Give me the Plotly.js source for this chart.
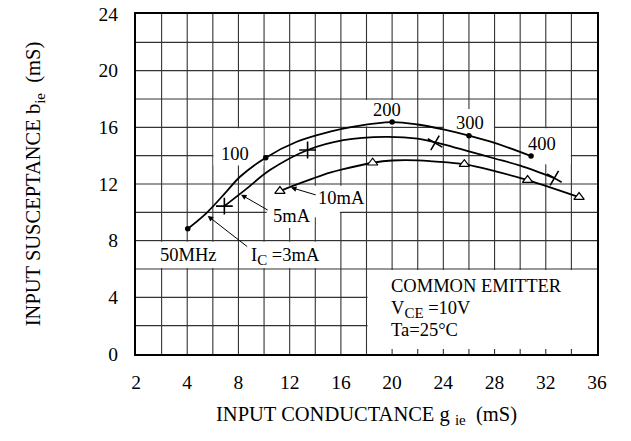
<!DOCTYPE html>
<html>
<head>
<meta charset="utf-8">
<script src="https://cdn.plot.ly/plotly-3.0.1.min.js"></script>
<style>html,body{margin:0;padding:0;background:#fff;}</style>
</head>
<body>
<div id="chart" style="width:631px;height:441px;"></div>
<script>
// ---- data ----
// IC = 3 mA curve (dots mark 50/100/200/300/400 MHz)
const ic3LineG = [4.04, 5.5, 7.1, 8.12, 10.13, 12.55, 15.15, 17.0, 20.0, 22.0, 24.0, 26.0, 28.0, 30.85];
const ic3LineB = [8.84, 9.95, 11.5, 12.51, 13.86, 14.98, 15.69, 16.05, 16.37, 16.2, 15.85, 15.41, 14.9, 13.97];
const ic3PtsG  = [4.04, 10.13, 20.0, 26.0, 30.85];
const ic3PtsB  = [8.84, 13.86, 16.37, 15.41, 13.97];
// IC = 5 mA curve (+ markers)
const ic5LineG = [6.9, 8.5, 10.46, 13.4, 16.19, 19.5, 22.0, 24.0, 26.0, 28.0, 30.0, 32.67];
const ic5LineB = [10.44, 11.57, 12.98, 14.4, 15.1, 15.33, 15.2, 14.8, 14.3, 13.8, 13.3, 12.42];
const ic5PtsG  = [6.9, 13.4, 23.35, 32.67];
const ic5PtsB  = [10.44, 14.4, 14.9, 12.42];
// IC = 10 mA curve (triangle markers)
const ic10LineG = [11.24, 12.2, 13.85, 15.15, 16.19, 18.48, 20.0, 22.0, 23.2, 25.64, 28.17, 30.58, 32.58, 34.6];
const ic10LineB = [11.5, 11.85, 12.4, 12.8, 13.05, 13.5, 13.66, 13.67, 13.6, 13.4, 12.87, 12.28, 11.69, 11.08];
const ic10PtsG  = [11.24, 18.48, 25.64, 30.58, 34.6];
const ic10PtsB  = [11.5, 13.5, 13.4, 12.28, 11.08];

// axis ticks
const xTickVals = [0, 4, 8, 12, 16, 20, 24, 28, 32, 36];
const xTickText = ["2", "4", "8", "12", "16", "20", "24", "28", "32", "36"];
const yTickVals = [0, 4, 8, 12, 16, 20, 24];
const yTickText = ["0", "4", "8", "12", "16", "20", "24"];

// frequency labels
const freqLabels = ["100", "200", "300", "400"];
const freqLabelG = [7.73, 19.61, 26.1, 31.74];
const freqLabelB = [14.13, 17.24, 16.3, 14.84];

// ---- drawing ----
const FONT = "Liberation Serif, Times New Roman, serif";
const black = "#000";
const SUB = s => '<sub><span style="font-size:15px">' + s + '</span></sub>';

const traces = [
  {x: ic3LineG, y: ic3LineB, mode: "lines", line: {color: black, width: 1.8, shape: "spline", smoothing: 1}, hoverinfo: "skip"},
  {x: ic3PtsG, y: ic3PtsB, mode: "markers", marker: {symbol: "circle", size: 5.5, color: black}},
  {x: ic5LineG, y: ic5LineB, mode: "lines", line: {color: black, width: 1.8, shape: "spline", smoothing: 1}, hoverinfo: "skip"},
  {x: ic5PtsG, y: ic5PtsB, mode: "markers", marker: {symbol: "cross-thin-open", size: 12, color: black, angle: [0, 0, 30, 30], line: {color: black, width: 1.6}}},
  {x: ic10LineG, y: ic10LineB, mode: "lines", line: {color: black, width: 1.8, shape: "spline", smoothing: 1}, hoverinfo: "skip"},
  {x: ic10PtsG, y: ic10PtsB, mode: "markers", marker: {symbol: "triangle-up", size: 9, color: "#fff", line: {color: black, width: 1.2}}}
];

// grid as shapes so that label boxes can hide parts of it
const shapes = [];
for (let g = 2; g < 36; g += 2) {
  shapes.push({type: "line", layer: "below", xref: "x", yref: "y", x0: g, x1: g, y0: 0, y1: 24, line: {color: "#333", width: 1.1}});
}
for (let b = 2; b < 24; b += 2) {
  shapes.push({type: "line", layer: "below", xref: "x", yref: "y", x0: 0, x1: 36, y0: b, y1: b, line: {color: "#333", width: 1.1}});
}
// blank (white) areas behind the labels
const blanks = [
  [18.08, 36, 0.35, 5.93],
  [0, 7.92, 6.07, 7.93],
  [8.08, 15.92, 6.07, 7.93],
  [10.2, 13.92, 8.9, 10.1],
  [11.6, 16.08, 10.04, 11.88],
  [13.9, 15.92, 9.65, 10.1],
  [6.05, 9.95, 13.3, 15.93],
  [17.9, 21.92, 16.07, 17.93],
  [24.05, 27.95, 15.5, 17.3],
  [30.05, 33.95, 13.4, 15.93]
];
blanks.forEach(r => shapes.push({type: "rect", layer: "below", xref: "x", yref: "y",
  x0: r[0], x1: r[1], y0: r[2], y1: r[3], fillcolor: "#fff", line: {width: 0}}));

const annFont = {family: FONT, size: 18.5, color: black};
const annotations = [];
freqLabels.forEach((t, i) => annotations.push({x: freqLabelG[i], y: freqLabelB[i], text: t, showarrow: false, font: annFont, xanchor: "center", yanchor: "middle"}));
annotations.push({x: 4.07, y: 7.0, text: "50MHz", showarrow: false, font: annFont, xanchor: "center", yanchor: "middle"});
annotations.push({x: 8.85, y: 6.85, text: "I" + SUB("C") + " =3mA", showarrow: false, font: annFont, xanchor: "left", yanchor: "middle"});
annotations.push({x: 10.55, y: 9.72, text: "5mA", showarrow: false, font: annFont, xanchor: "left", yanchor: "middle"});
annotations.push({x: 14.05, y: 10.99, text: "10mA", showarrow: false, font: annFont, xanchor: "left", yanchor: "middle"});
annotations.push({x: 19.75, y: 4.83, text: "COMMON EMITTER", showarrow: false, font: annFont, xanchor: "left", yanchor: "middle"});
annotations.push({x: 19.75, y: 3.15, text: "V" + SUB("CE") + " =10V", showarrow: false, font: annFont, xanchor: "left", yanchor: "middle"});
annotations.push({x: 19.75, y: 1.68, text: "Ta=25°C", showarrow: false, font: annFont, xanchor: "left", yanchor: "middle"});
// leader arrows
const arrows = [
  [5.6, 9.75, 8.8, 7.5],
  [8.2, 11.25, 10.4, 10.1],
  [12.1, 11.75, 14.15, 11.2]
];
arrows.forEach(a => annotations.push({x: a[0], y: a[1], ax: a[2], ay: a[3], axref: "x", ayref: "y", xref: "x", yref: "y",
  text: "", showarrow: true, arrowhead: 2, arrowsize: 1.1, arrowwidth: 1, arrowcolor: black, standoff: 0, startstandoff: 0}));

const layout = {
  width: 631, height: 441,
  margin: {l: 136, r: 34, t: 14, b: 87},
  paper_bgcolor: "#fff", plot_bgcolor: "#fff",
  showlegend: false,
  font: {family: FONT, color: black, size: 19},
  xaxis: {
    range: [0, 36], tickmode: "array", tickvals: xTickVals, ticktext: xTickText,
    showgrid: false, zeroline: false, ticks: "", ticklabelstandoff: 10,
    showline: true, mirror: true, linecolor: black, linewidth: 2,
    tickfont: {family: FONT, size: 19.5, color: black},
    title: {text: "INPUT CONDUCTANCE g " + SUB("ie") + "  (mS)", font: {family: FONT, size: 20.5, color: black}, standoff: 14}
  },
  yaxis: {
    range: [0, 24], tickmode: "array", tickvals: yTickVals, ticktext: yTickText,
    showgrid: false, zeroline: false, ticks: "", ticklabelstandoff: 12,
    showline: true, mirror: true, linecolor: black, linewidth: 2,
    tickfont: {family: FONT, size: 19.5, color: black},
    title: {text: "INPUT SUSCEPTANCE b" + SUB("ie") + "  (mS)", font: {family: FONT, size: 20.5, color: black}, standoff: 52}
  },
  shapes: shapes,
  annotations: annotations
};

Plotly.newPlot("chart", traces, layout, {displayModeBar: false, staticPlot: true});
</script>
</body>
</html>
